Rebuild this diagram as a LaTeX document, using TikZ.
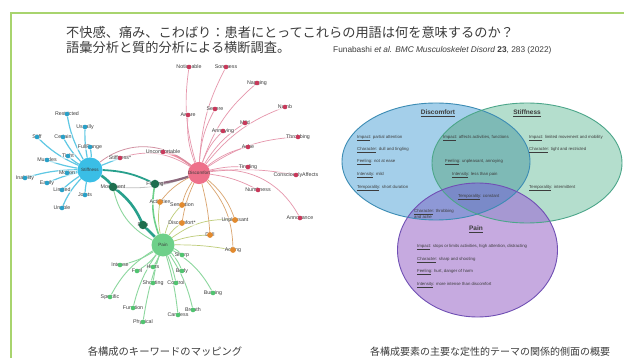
\documentclass[tikz,border=0pt]{standalone}
\usepackage{fontspec}
\setmainfont{Liberation Sans}
\newfontfamily\jpfont{Noto Sans CJK JP}
\usetikzlibrary{backgrounds}
\definecolor{frameGreen}{RGB}{168,212,110}
\definecolor{inkGray}{RGB}{60,60,60}
\definecolor{discHub}{RGB}{238,112,138}
\definecolor{discDot}{RGB}{200,56,90}
\definecolor{discEdge}{RGB}{230,150,172}
\definecolor{stHub}{RGB}{58,190,230}
\definecolor{stDot}{RGB}{40,160,200}
\definecolor{stEdge}{RGB}{95,200,228}
\definecolor{painHub}{RGB}{110,208,138}
\definecolor{painDot}{RGB}{80,196,112}
\definecolor{painEdge}{RGB}{140,215,158}
\definecolor{deepGreen}{RGB}{30,110,78}
\definecolor{linkTeal}{RGB}{40,160,140}
\definecolor{linkMauve}{RGB}{140,105,125}
\definecolor{orangeDot}{RGB}{226,138,46}
\definecolor{orangeEdge}{RGB}{218,164,110}
\definecolor{oliveEdge}{RGB}{190,204,120}
\definecolor{vennBlue}{RGB}{164,207,234}
\definecolor{vennMint}{RGB}{180,222,205}
\definecolor{vennLilac}{RGB}{198,170,224}
\definecolor{vennDS}{RGB}{126,186,182}
\definecolor{vennDP}{RGB}{142,152,214}
\definecolor{vennSP}{RGB}{166,152,210}
\definecolor{vennDSP}{RGB}{122,138,200}
\definecolor{lineBlue}{RGB}{60,140,180}
\definecolor{lineMint}{RGB}{76,166,138}
\definecolor{linePurple}{RGB}{112,80,180}

\begin{document}
\begin{tikzpicture}[x=1pt, y=-1pt,
    hub/.style={circle, inner sep=0pt, text=inkGray,
      font=\fontsize{4.6}{5}\selectfont},
    word/.style={fill=white, fill opacity=0.55, text opacity=1, inner sep=0.8pt,
      text=inkGray, font=\fontsize{5.3}{6}\selectfont},
    dot/.style={circle, inner sep=0pt, minimum size=4.6pt},
    dword/.style={word, label={[dot, fill=discDot]center:}},
    sword/.style={word, label={[dot, fill=stDot]center:}},
    pword/.style={word, label={[dot, fill=painDot]center:}},
    oword/.style={word, label={[dot, fill=orangeDot, minimum size=5.8pt]center:}},
    gword/.style={word, label={[dot, fill=deepGreen, minimum size=8.5pt]center:}},
    dedge/.style={discEdge, line width=0.7pt},
    sedge/.style={stEdge, line width=1.2pt},
    pedge/.style={painEdge, line width=0.9pt},
    oedge/.style={orangeEdge, line width=0.7pt},
    yedge/.style={oliveEdge, line width=0.7pt},
    vtext/.style={anchor=west, inner sep=0pt, text=inkGray,
      font=\fontsize{4.3}{5}\selectfont},
    vtitle/.style={inner sep=0pt, text=inkGray,
      font=\fontsize{6.5}{7}\selectfont\bfseries},
    jptext/.style={inner sep=0pt, text=inkGray},
    dshape/.style={x radius=94pt, y radius=58.5pt},
    sshape/.style={x radius=95pt, y radius=60pt},
    pshape/.style={x radius=80pt, y radius=67pt}
  ]
  \useasboundingbox (0,0) rectangle (624,358);

  % frame
  \draw[frameGreen, line width=2pt] (624,13) -- (11,13) -- (11,358);

  % headings
  \node[jptext, anchor=west, font=\jpfont\fontsize{13.2}{15}\selectfont] (title1) at (66,32)
    {不快感、痛み、こわばり：患者にとってこれらの用語は何を意味するのか？};
  \node[jptext, anchor=west, font=\jpfont\fontsize{13.2}{15}\selectfont] (title2) at (66,48)
    {語彙分析と質的分析による横断調査。};
  \node[jptext, anchor=west, font=\fontsize{8.3}{9}\selectfont] (cite) at (333,50)
    {Funabashi \textit{et al.} \textit{BMC Musculoskelet Disord} \textbf{23}, 283 (2022)};
  \node[jptext, font=\jpfont\fontsize{10.3}{12}\selectfont] (capLeft) at (165,352)
    {各構成のキーワードのマッピング};
  \node[jptext, font=\jpfont\fontsize{10}{12}\selectfont] (capRight) at (490,352)
    {各構成要素の主要な定性的テーマの関係的側面の概要};

  % hubs
  \node[hub, fill=stHub, minimum size=25pt] (st) at (90,170) {Stiffness};
  \node[hub, fill=discHub, minimum size=19pt] (disc) at (199,173) {Discomfort};
  \node[hub, fill=painHub, minimum size=23pt] (pain) at (163,245) {Pain};

  % discomfort words
  \node[dword] (notic) at (189,67) {Noticeable};
  \node[dword] (sore) at (226,67) {Soreness};
  \node[dword] (nag) at (257,83) {Nagging};
  \node[dword] (numb) at (285,107) {Numb};
  \node[dword] (aware) at (188,115) {Aware};
  \node[dword] (severe) at (215,109) {Severe};
  \node[dword] (mild) at (245,123) {Mild};
  \node[dword] (annoying) at (223,131) {Annoying};
  \node[dword] (throb) at (298,137) {Throbbing};
  \node[dword] (ache) at (248,147) {Ache};
  \node[dword] (uncomf) at (163,152) {Uncomfortable};
  \node[dword] (tingl) at (248,167) {Tingling};
  \node[dword] (consc) at (296,175) {ConsciouslyAffects};
  \node[dword] (numbness) at (258,190) {Numbness};
  \node[dword] (annoyance) at (300,218) {Annoyance};
  \node[dword] (stiffstar) at (120,158) {Stiffness*};

  % stiffness words
  \node[sword] (restricted) at (67,114) {Restricted};
  \node[sword] (usually) at (85,127) {Usually};
  \node[sword] (stiff) at (37,137) {Stiff};
  \node[sword] (certain) at (63,137) {Certain};
  \node[sword] (fullrange) at (90,147) {FullRange};
  \node[sword] (tight) at (68,156) {Tight};
  \node[sword] (muscles) at (47,160) {Muscles};
  \node[sword] (motion) at (67,173) {Motion};
  \node[sword] (inability) at (25,178) {Inability};
  \node[sword] (easily) at (47,183) {Easily};
  \node[sword] (limited) at (62,190) {Limited};
  \node[sword] (joints) at (85,195) {Joints};
  \node[sword] (unable) at (62,208) {Unable};

  % shared words
  \node[gword] (movement) at (113,187) {Movement};
  \node[gword] (feeling) at (155,184) {Feeling};
  \node[gword] (painx) at (143,225) {Pain};
  \node[oword] (activities) at (160,202) {Activities};
  \node[oword] (sensation) at (182,205) {Sensation};
  \node[oword] (discstar) at (182,223) {Discomfort*};
  \node[oword] (unpleasant) at (235,220) {Unpleasant};
  \node[oword] (dull) at (210,235) {Dull};
  \node[oword] (aching) at (233,250) {Aching};

  % pain words
  \node[pword] (sharp) at (182,255) {Sharp};
  \node[pword] (intense) at (120,265) {Intense};
  \node[pword] (feel) at (137,271) {Feel};
  \node[pword] (hurts) at (153,267) {Hurts};
  \node[pword] (body) at (182,271) {Body};
  \node[pword] (shooting) at (153,283) {Shooting};
  \node[pword] (control) at (176,283) {Control};
  \node[pword] (burning) at (213,293) {Burning};
  \node[pword] (specific) at (110,297) {Specific};
  \node[pword] (function) at (133,308) {Function};
  \node[pword] (breath) at (193,310) {Breath};
  \node[pword] (careless) at (178,315) {Careless};
  \node[pword] (physical) at (143,322) {Physical};

  \begin{scope}[on background layer]
    \fill[white] (0,0) rectangle (624,358);

    % Stiffness links
    \draw[sedge] (st) to[bend left=10] (restricted.center);
    \draw[sedge] (st) to[bend left=6] (usually.center);
    \draw[sedge] (st) to[bend left=10] (stiff.center);
    \draw[sedge] (st) to[bend left=8] (certain.center);
    \draw[sedge] (st) to[bend right=6] (fullrange.center);
    \draw[sedge] (st) to[bend left=5] (tight.center);
    \draw[sedge] (st) to[bend left=5] (muscles.center);
    \draw[sedge] (st) -- (motion.center);
    \draw[sedge] (st) to[bend right=8] (inability.center);
    \draw[sedge] (st) to[bend right=5] (easily.center);
    \draw[sedge] (st) to[bend right=5] (limited.center);
    \draw[sedge] (st) to[bend right=5] (joints.center);
    \draw[sedge] (st) to[bend right=10] (unable.center);
    \draw[sedge] (st) -- (stiffstar.center);

    % Discomfort links
    \draw[dedge] (disc) to[bend left=12] (notic.center);
    \draw[dedge] (disc) to[bend left=12] (sore.center);
    \draw[dedge] (disc) to[bend left=15] (nag.center);
    \draw[dedge] (disc) to[bend left=15] (numb.center);
    \draw[dedge] (disc) to[bend left=12] (aware.center);
    \draw[dedge] (disc) to[bend left=12] (severe.center);
    \draw[dedge] (disc) to[bend left=12] (mild.center);
    \draw[dedge] (disc) to[bend left=12] (annoying.center);
    \draw[dedge] (disc) to[bend left=15] (throb.center);
    \draw[dedge] (disc) to[bend left=12] (ache.center);
    \draw[dedge] (disc) to[bend left=8] (tingl.center);
    \draw[dedge] (disc) to[bend left=8] (consc.center);
    \draw[dedge] (disc) to[bend left=10] (numbness.center);
    \draw[dedge] (disc) to[bend left=35] (annoyance.center);
    \draw[dedge] (disc) to[bend right=25] (stiffstar.center);
    \draw[discHub!80, line width=1.8pt] (disc) to[bend right=12] (uncomf.center);

    % cross links
    \draw[discEdge!80!gray, line width=0.8pt] (st) to[bend left=40] (disc);
    \draw[gray!50, line width=0.8pt] (movement.center) to[bend right=12] (disc);
    \draw[linkMauve, line width=2.2pt] (feeling.center) to[bend right=5] (disc);
    \draw[linkTeal, line width=1.8pt] (st) to[bend left=12] (feeling.center);
    \draw[linkTeal, line width=2.6pt] (st) to[bend left=10] (movement.center);
    \draw[linkTeal, line width=2.6pt] (movement.center) to[bend left=15] (painx.center);
    \draw[linkTeal, line width=2.6pt] (painx.center) -- (pain);
    \draw[painHub, line width=1.6pt] (feeling.center) to[bend right=15] (pain);
    \draw[pedge] (movement.center) to[bend right=25] (pain);

    % shared words
    \draw[oedge] (disc) to[bend right=12] (activities.center);
    \draw[oedge] (disc) to[bend right=10] (sensation.center);
    \draw[oedge] (disc) to[bend right=8] (discstar.center);
    \draw[oedge] (disc) to[bend left=15] (unpleasant.center);
    \draw[oedge] (disc) to[bend left=5] (dull.center);
    \draw[oedge] (disc) to[bend left=20] (aching.center);
    \draw[yedge] (pain) to[bend left=10] (activities.center);
    \draw[yedge] (pain) to[bend left=15] (sensation.center);
    \draw[yedge] (pain) to[bend left=10] (discstar.center);
    \draw[yedge] (pain) to[bend left=20] (unpleasant.center);
    \draw[yedge] (pain) to[bend left=8] (dull.center);
    \draw[yedge] (pain) to[bend left=5] (aching.center);

    % Pain links
    \draw[pedge] (pain) to[bend left=10] (sharp.center);
    \draw[pedge] (pain) to[bend left=10] (intense.center);
    \draw[pedge] (pain) to[bend left=10] (feel.center);
    \draw[pedge] (pain) to[bend left=5] (hurts.center);
    \draw[pedge] (pain) to[bend left=10] (body.center);
    \draw[pedge] (pain) to[bend right=5] (shooting.center);
    \draw[pedge] (pain) to[bend left=5] (control.center);
    \draw[pedge] (pain) to[bend left=15] (burning.center);
    \draw[pedge] (pain) to[bend right=15] (specific.center);
    \draw[pedge] (pain) to[bend right=10] (function.center);
    \draw[pedge] (pain) to[bend left=10] (breath.center);
    \draw[pedge] (pain) to[bend left=5] (careless.center);
    \draw[pedge] (pain) to[bend right=5] (physical.center);
  \end{scope}

  % Venn of the three constructs
  \coordinate (dC) at (436,161.5);
  \coordinate (sC) at (527,163);
  \coordinate (pC) at (477.5,250);
  \fill[vennBlue] (dC) ellipse [dshape];
  \fill[vennMint] (sC) ellipse [sshape];
  \fill[vennLilac] (pC) ellipse [pshape];
  \begin{scope}
    \clip (dC) ellipse [dshape];
    \fill[vennDS] (sC) ellipse [sshape];
    \fill[vennDP] (pC) ellipse [pshape];
  \end{scope}
  \begin{scope}
    \clip (sC) ellipse [sshape];
    \fill[vennSP] (pC) ellipse [pshape];
  \end{scope}
  \begin{scope}
    \clip (dC) ellipse [dshape];
    \clip (sC) ellipse [sshape];
    \fill[vennDSP] (pC) ellipse [pshape];
  \end{scope}
  \draw[lineBlue, line width=0.9pt] (dC) ellipse [dshape];
  \draw[lineMint, line width=0.9pt] (sC) ellipse [sshape];
  \draw[linePurple, line width=0.9pt] (pC) ellipse [pshape];

  \node[vtitle] (dTitle) at (438,113) {\underline{Discomfort}};
  \node[vtitle] (sTitle) at (527,113) {\underline{Stiffness}};
  \node[vtitle] (pTitle) at (476,229) {\underline{Pain}};

  \node[vtext] (dImpact) at (357,138) {\underline{Impact}: partial attention};
  \node[vtext] (dChar) at (357,150) {\underline{Character}: dull and tingling};
  \node[vtext] (dFeel) at (357,162) {\underline{Feeling}: not at ease};
  \node[vtext] (dInt) at (357,175) {\underline{Intensity}: mild};
  \node[vtext] (dTemp) at (357,188) {\underline{Temporality}: short duration};

  \node[vtext] (dsImpact) at (443,138) {\underline{Impact}: affects activities, functions};
  \node[vtext] (dsFeel) at (445,162) {\underline{Feeling}: unpleasant, annoying};
  \node[vtext] (dsInt) at (452,175) {\underline{Intensity}: less than pain};

  \node[vtext] (sImpact) at (529,138) {\underline{Impact}: limited movement and mobility};
  \node[vtext] (sChar) at (529,150) {\underline{Character}: tight and restricted};
  \node[vtext] (sTemp) at (529,188) {\underline{Temporality}: intermittent};

  \node[vtext] (allTemp) at (458,197) {\underline{Temporality}: constant};
  \node[vtext, align=left] (dpChar) at (414,214)
    {\underline{Character}: throbbing\\and ache};

  \node[vtext] (pImpact) at (417,247) {\underline{Impact}: stops or limits activities, high attention, distracting};
  \node[vtext] (pChar) at (417,260) {\underline{Character}: sharp and shooting};
  \node[vtext] (pFeel) at (417,272) {\underline{Feeling}: hurt, danger of harm};
  \node[vtext] (pInt) at (417,285) {\underline{Intensity}: more intense than discomfort};
\end{tikzpicture}
\end{document}
